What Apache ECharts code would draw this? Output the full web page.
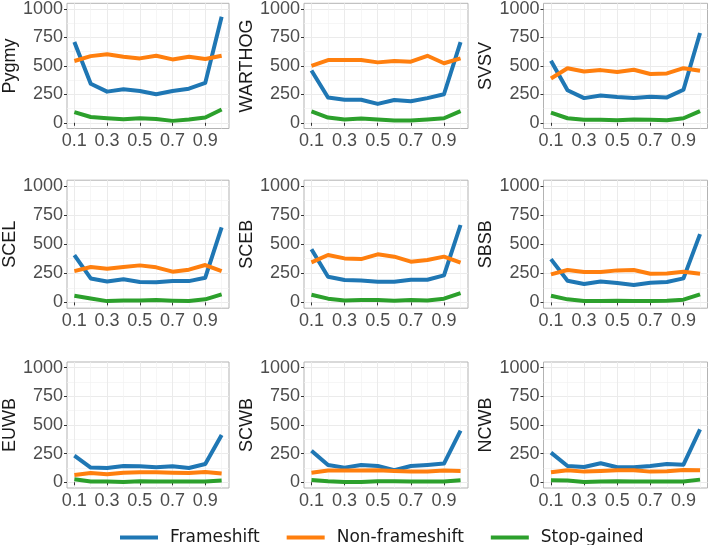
<!DOCTYPE html>
<html>
<head>
<meta charset="utf-8">
<script src="https://cdn.jsdelivr.net/npm/echarts@6/dist/echarts.min.js"></script>
<style>
  html, body { margin: 0; padding: 0; background: #ffffff; }
  #chart { width: 709px; height: 545px; }
</style>
</head>
<body>
<div id="chart"></div>
<script>
// ---- Data ----
const panels = ['Pygmy', 'WARTHOG', 'SVSV', 'SCEL', 'SCEB', 'SBSB', 'EUWB', 'SCWB', 'NCWB'];
const xValues = [0.1, 0.2, 0.3, 0.4, 0.5, 0.6, 0.7, 0.8, 0.9, 1.0];
const seriesNames = ['Frameshift', 'Non-frameshift', 'Stop-gained'];
const xMajorTicks = [0.1, 0.3, 0.5, 0.7, 0.9];
const xMinorTicks = [0.2, 0.4, 0.6, 0.8, 1.0];
const yMajorTicks = [0, 250, 500, 750, 1000];
const yMinorTicks = [125, 375, 625, 875];

const frameshift = [
  [710, 343, 274, 294, 280, 251, 280, 300, 351, 931],   // Pygmy
  [460, 223, 203, 203, 166, 200, 189, 217, 251, 709],   // WARTHOG
  [546, 286, 217, 240, 226, 217, 229, 223, 291, 789],   // SVSV
  [407, 206, 180, 198, 175, 172, 183, 183, 212, 645],   // SCEL
  [456, 221, 192, 189, 178, 178, 195, 195, 232, 665],   // SCEB
  [372, 186, 158, 180, 166, 149, 169, 175, 206, 587],   // SBSB
  [233, 128, 125, 142, 140, 131, 140, 125, 160, 413],   // EUWB
  [276, 151, 128, 151, 142, 105, 142, 151, 163, 451],   // SCWB
  [259, 142, 134, 166, 131, 131, 142, 160, 154, 462]    // NCWB
];
const nonFrameshift = [
  [543, 586, 603, 580, 566, 589, 557, 580, 560, 589],
  [500, 551, 551, 551, 531, 543, 537, 589, 523, 566],
  [389, 480, 451, 463, 446, 466, 429, 434, 480, 457],
  [269, 304, 289, 304, 318, 301, 264, 281, 321, 269],
  [344, 407, 378, 372, 413, 393, 350, 364, 393, 341],
  [241, 278, 261, 261, 275, 278, 246, 249, 264, 246],
  [64, 81, 70, 84, 87, 87, 84, 81, 90, 76],
  [84, 102, 102, 102, 105, 99, 93, 93, 102, 99],
  [87, 105, 93, 99, 105, 105, 93, 96, 108, 105]
];
const stopGained = [
  [94, 51, 40, 31, 40, 34, 17, 29, 46, 117],
  [100, 46, 29, 37, 29, 20, 20, 29, 40, 103],
  [89, 40, 26, 26, 23, 29, 26, 23, 40, 103],
  [57, 34, 11, 17, 17, 20, 14, 11, 26, 69],
  [66, 32, 17, 20, 20, 14, 20, 17, 32, 80],
  [57, 26, 11, 11, 14, 11, 11, 14, 23, 69],
  [26, 6, 6, 3, 9, 6, 6, 6, 6, 15],
  [20, 9, 3, 3, 9, 9, 6, 6, 6, 17],
  [17, 15, 3, 6, 9, 6, 6, 6, 6, 23]
];

// ---- Layout / style ----
const colors = ['#1f77b4', '#ff7f0e', '#2ca02c'];
const colLefts = [65, 304, 543.5];
const rowTops = [0.5, 180.2, 362];
const rowHeights = [128, 128, 126];
const panelWidth = 164;
const tickFont = '"Liberation Sans", Arial, sans-serif';

const grids = [], xAxes = [], yAxes = [], series = [];
const allData = [frameshift, nonFrameshift, stopGained];

panels.forEach(function (name, i) {
  const r = Math.floor(i / 3), c = i % 3;
  grids.push({
    left: colLefts[c], top: rowTops[r], width: panelWidth, height: rowHeights[r],
    show: true, borderColor: '#b3b3b3', borderWidth: 1, backgroundColor: '#ffffff',
    containLabel: false
  });
  xAxes.push({
    type: 'value', gridIndex: i, min: 0.055, max: 1.045, position: 'bottom',
    axisLine: { show: false },
    axisTick: { show: true, customValues: xMajorTicks, length: 3, lineStyle: { color: '#333333', width: 1 } },
    axisLabel: { show: true, customValues: xMajorTicks, color: '#4d4d4d', fontSize: 18, fontFamily: tickFont, margin: 4,
      formatter: function (v) { return v.toFixed(1); } },
    splitLine: { show: true, lineStyle: { color: '#ebebeb', width: 1 } }
  });
  xAxes.push({
    type: 'value', gridIndex: i, min: 0.055, max: 1.045, position: 'top',
    axisLine: { show: false },
    axisTick: { show: false, customValues: xMinorTicks },
    axisLabel: { show: false, customValues: xMinorTicks },
    splitLine: { show: true, lineStyle: { color: '#f2f2f2', width: 0.7 } }
  });
  yAxes.push({
    type: 'value', gridIndex: i, min: -50, max: 1050, position: 'left',
    name: name, nameLocation: 'middle', nameGap: 48,
    nameTextStyle: { fontSize: 18, color: '#1a1a1a', fontFamily: tickFont },
    axisLine: { show: false },
    axisTick: { show: true, customValues: yMajorTicks, length: 3, lineStyle: { color: '#333333', width: 1 } },
    axisLabel: { show: true, customValues: yMajorTicks, color: '#4d4d4d', fontSize: 18, fontFamily: tickFont, margin: 4,
      formatter: function (v) { return String(v); } },
    splitLine: { show: true, lineStyle: { color: '#ebebeb', width: 1 } }
  });
  yAxes.push({
    type: 'value', gridIndex: i, min: -50, max: 1050, position: 'right',
    axisLine: { show: false },
    axisTick: { show: false, customValues: yMinorTicks },
    axisLabel: { show: false, customValues: yMinorTicks },
    splitLine: { show: true, lineStyle: { color: '#f2f2f2', width: 0.7 } }
  });
  allData.forEach(function (arr, s) {
    series.push({
      type: 'line', name: seriesNames[s],
      xAxisIndex: 2 * i, yAxisIndex: 2 * i,
      data: xValues.map(function (x, k) { return [x, arr[i][k]]; }),
      symbol: 'none', showSymbol: false,
      lineStyle: { color: colors[s], width: 4, join: 'round' },
      itemStyle: { color: colors[s] },
      animation: false, silent: true
    });
  });
});

const chart = echarts.init(document.getElementById('chart'), null, { renderer: 'canvas' });
chart.setOption({
  backgroundColor: '#ffffff',
  animation: false,
  grid: grids,
  xAxis: xAxes,
  yAxis: yAxes,
  legend: {
    data: seriesNames,
    left: 115, top: 524,
    icon: 'rect', itemWidth: 38, itemHeight: 4, itemGap: 27,
    textStyle: { fontSize: 17, color: '#1a1a1a', fontFamily: '"DejaVu Sans", sans-serif', padding: [0, 0, 0, 7] }
  },
  series: series
});
</script>
</body>
</html>
